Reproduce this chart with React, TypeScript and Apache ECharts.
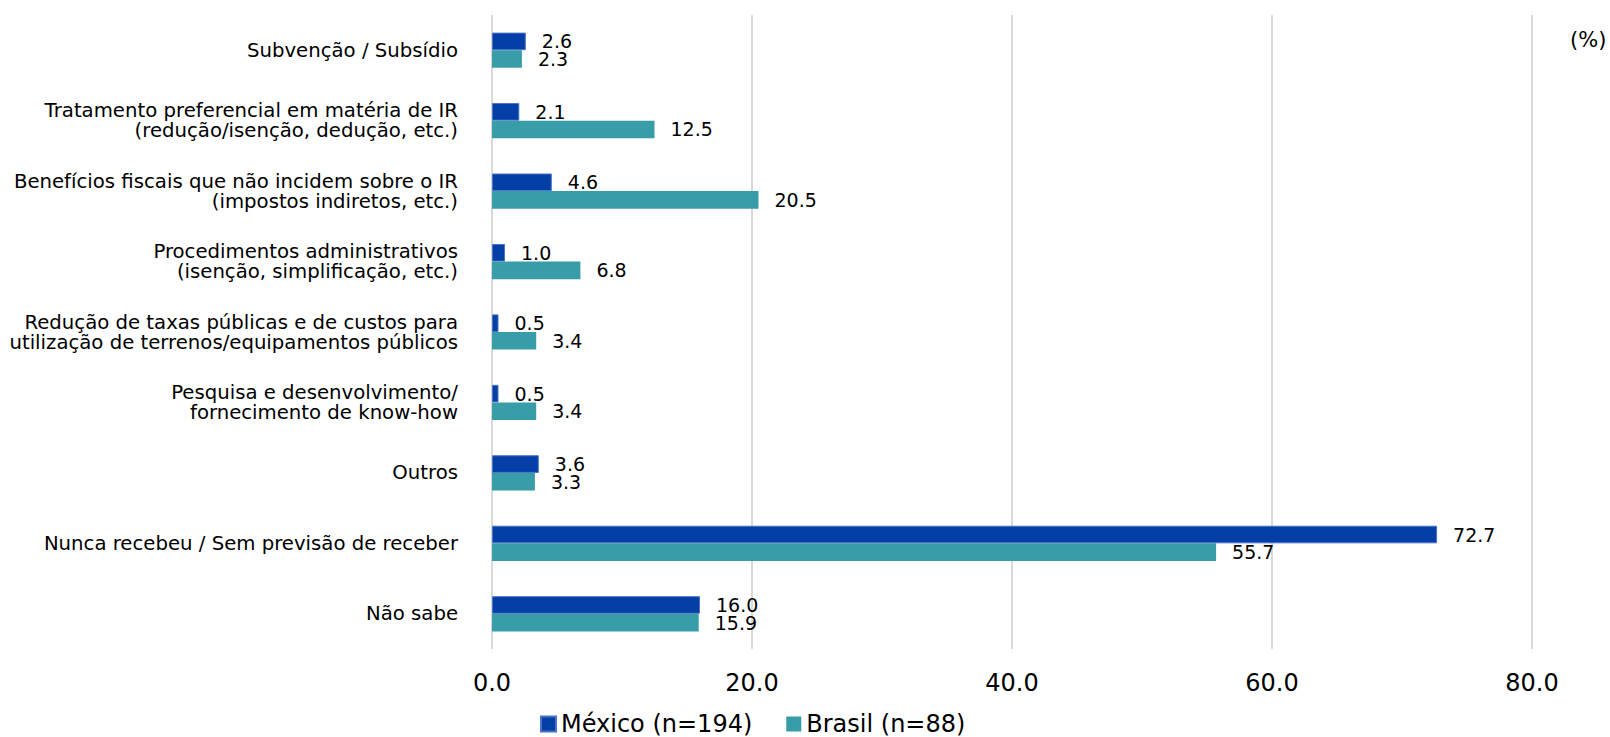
import React, { useEffect, useRef } from "react";
import * as echarts from "echarts";

const categories = [
  "Subvenção / Subsídio",
  "Tratamento preferencial em matéria de IR\n(redução/isenção, dedução, etc.)",
  "Benefícios fiscais que não incidem sobre o IR\n(impostos indiretos, etc.)",
  "Procedimentos administrativos\n(isenção, simplificação, etc.)",
  "Redução de taxas públicas e de custos para\nutilização de terrenos/equipamentos públicos",
  "Pesquisa e desenvolvimento/\nfornecimento de know-how",
  "Outros",
  "Nunca recebeu / Sem previsão de receber",
  "Não sabe",
];

const mexicoName = "México (n=194)";
const brasilName = "Brasil (n=88)";
const mexicoValues = [2.6, 2.1, 4.6, 1.0, 0.5, 0.5, 3.6, 72.7, 16.0];
const brasilValues = [2.3, 12.5, 20.5, 6.8, 3.4, 3.4, 3.3, 55.7, 15.9];

const xMin = 0;
const xMax = 80;
const xInterval = 20;
const unitLabel = "(%)";

const FONT = "'DejaVu Sans', Verdana, sans-serif";

export default function App() {
  const ref = useRef<HTMLDivElement>(null);

  useEffect(() => {
    if (!ref.current) return;
    const chart = echarts.init(ref.current, undefined, { renderer: "svg" });
    const labelStyle = {
      show: true,
      position: "right" as const,
      distance: 16,
      fontSize: 19,
      fontFamily: FONT,
      color: "#000",
      formatter: (p: any) => Number(p.value).toFixed(1),
    };
    chart.setOption({
      animation: false,
      textStyle: { fontFamily: FONT },
      grid: { left: 492, right: 78, top: 15, bottom: 88, containLabel: false },
      legend: {
        left: 540,
        top: 712,
        padding: 0,
        icon: "rect",
        itemWidth: 15,
        itemHeight: 15,
        itemGap: 34,
        textStyle: { fontSize: 24, fontFamily: FONT, color: "#000" },
        data: [mexicoName, brasilName],
      },
      xAxis: {
        type: "value",
        min: xMin,
        max: xMax,
        interval: xInterval,
        axisLine: { show: false },
        axisTick: { show: false },
        splitLine: { show: true, lineStyle: { color: "#D9D9D9", width: 2 } },
        axisLabel: {
          fontSize: 24,
          fontFamily: FONT,
          color: "#000",
          margin: 22,
          formatter: (v: number) => v.toFixed(1),
        },
      },
      yAxis: {
        type: "category",
        data: categories,
        inverse: true,
        axisLine: { show: false },
        axisTick: { show: false },
        axisLabel: {
          fontSize: 19.7,
          lineHeight: 20,
          fontFamily: FONT,
          color: "#000",
          margin: 34,
          align: "right",
        },
      },
      graphic: [
        {
          type: "text",
          left: 1570,
          top: 29,
          style: { text: unitLabel, fontSize: 21, fontFamily: FONT, fill: "#000" },
        },
      ],
      series: [
        {
          name: mexicoName,
          type: "bar",
          data: mexicoValues,
          barGap: "0%",
          barCategoryGap: "50%",
          itemStyle: { color: "#033FA6", borderColor: "#4A72C8", borderWidth: 1 },
          label: labelStyle,
        },
        {
          name: brasilName,
          type: "bar",
          data: brasilValues,
          barGap: "0%",
          barCategoryGap: "50%",
          itemStyle: { color: "#389DA8" },
          label: labelStyle,
        },
      ],
    });
    return () => chart.dispose();
  }, []);

  return (
    <div
      ref={ref}
      style={{ position: "fixed", left: 0, top: 0, width: 1610, height: 737, background: "#fff" }}
    />
  );
}
